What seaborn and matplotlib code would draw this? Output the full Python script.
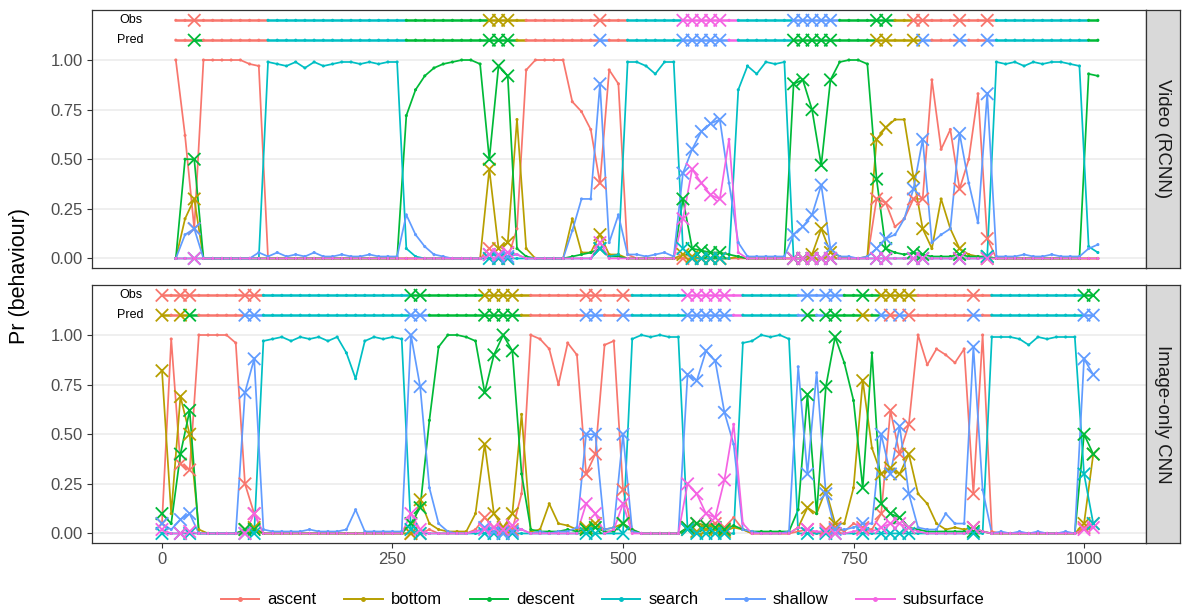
import numpy as np
import pandas as pd
import matplotlib
matplotlib.use("Agg")
import matplotlib.pyplot as plt
import seaborn as sns
from matplotlib.lines import Line2D

classes = ["ascent", "bottom", "descent", "search", "shallow", "subsurface"]
colors = ["#F8766D", "#B79F00", "#00BA38", "#00BFC4", "#619CFF", "#F564E3"]

# ---------------- Video (RCNN) panel: time 15..1015 step 10 ----------------
video_t = list(range(15, 1016, 10))
video_ascent = [100, 62, 15, 100, 100, 100, 100, 100, 98, 97,
                0, 0, 0, 0, 0, 0, 0, 0, 0, 0,
                0, 0, 0, 0, 0, 0, 0, 0, 0, 0,
                0, 0, 0, 0, 5, 0, 0, 15, 95, 100,
                100, 100, 100, 79, 74, 65, 38, 95, 88, 2,
                0, 0, 0, 0, 0, 0, 0, 0, 0, 0,
                0, 0, 0, 0, 0, 0, 0, 0, 0, 0,
                0, 0, 0, 0, 0, 0, 30, 28, 16, 20,
                30, 30, 90, 55, 65, 35, 50, 83, 10, 0,
                0, 0, 0, 0, 0, 0, 0, 0, 0, 0,
                0]
video_bottom = [0, 20, 30, 0, 0, 0, 0, 0, 0, 0,
                0, 0, 0, 0, 0, 0, 0, 0, 0, 0,
                0, 0, 0, 0, 0, 0, 0, 0, 0, 0,
                0, 0, 0, 0, 45, 5, 8, 70, 5, 0,
                0, 0, 0, 20, 3, 3, 12, 2, 2, 0,
                0, 0, 0, 0, 0, 2, 1, 0, 0, 0,
                0, 1, 0, 0, 0, 0, 0, 0, 0, 2,
                15, 3, 1, 0, 0, 1, 60, 66, 70, 70,
                41, 15, 5, 30, 15, 5, 2, 1, 0, 0,
                0, 0, 0, 0, 0, 0, 0, 0, 0, 0,
                0]
video_descent = [0, 50, 50, 0, 0, 0, 0, 0, 0, 0,
                 0, 0, 0, 0, 0, 0, 0, 0, 0, 0,
                 0, 0, 0, 0, 0, 72, 85, 92, 96, 98,
                 99, 100, 100, 98, 50, 97, 92, 5, 1, 0,
                 0, 0, 0, 1, 2, 3, 5, 1, 1, 0,
                 0, 0, 0, 0, 0, 30, 5, 4, 3, 3,
                 2, 1, 0, 0, 0, 0, 0, 88, 90, 75,
                 47, 90, 99, 100, 100, 98, 40, 5, 3, 2,
                 3, 2, 1, 1, 1, 2, 1, 1, 1, 0,
                 0, 0, 0, 0, 0, 0, 0, 0, 0, 93,
                 92]
video_search = [0, 0, 0, 0, 0, 0, 0, 0, 0, 0,
                99, 98, 97, 99, 96, 99, 97, 98, 99, 99,
                98, 99, 98, 99, 99, 5, 1, 0, 0, 0,
                0, 0, 0, 0, 0, 0, 0, 0, 0, 0,
                0, 0, 0, 0, 0, 0, 5, 1, 2, 99,
                99, 97, 93, 99, 99, 5, 0, 0, 0, 0,
                0, 85, 97, 93, 99, 98, 99, 0, 0, 0,
                0, 0, 0, 0, 0, 0, 0, 0, 0, 0,
                0, 0, 0, 0, 0, 0, 0, 0, 1, 99,
                98, 99, 97, 99, 98, 99, 99, 98, 97, 6,
                3]
video_shallow = [0, 12, 15, 0, 0, 0, 0, 0, 0, 3,
                 1, 3, 1, 2, 1, 3, 1, 1, 2, 1,
                 1, 2, 1, 1, 1, 22, 12, 6, 2, 1,
                 0, 0, 0, 0, 2, 1, 1, 2, 0, 0,
                 0, 0, 0, 14, 30, 30, 88, 8, 22, 2,
                 2, 1, 2, 3, 1, 43, 55, 64, 68, 70,
                 38, 8, 1, 1, 1, 1, 1, 12, 16, 22,
                 37, 5, 1, 1, 0, 1, 5, 10, 12, 20,
                 35, 60, 8, 12, 15, 63, 38, 18, 83, 1,
                 1, 1, 2, 1, 1, 2, 1, 1, 1, 5,
                 7]
video_subsurface = [0, 0, 0, 0, 0, 0, 0, 0, 0, 0,
                    0, 0, 0, 0, 0, 0, 0, 0, 0, 0,
                    0, 0, 0, 0, 0, 0, 0, 0, 0, 0,
                    0, 0, 0, 0, 2, 2, 3, 2, 0, 0,
                    0, 0, 0, 0, 0, 0, 8, 0, 0, 0,
                    0, 0, 0, 0, 0, 20, 45, 38, 32, 30,
                    60, 3, 0, 0, 0, 0, 0, 0, 0, 0,
                    0, 0, 0, 0, 0, 0, 0, 0, 0, 0,
                    0, 0, 0, 0, 0, 0, 0, 0, 0, 0,
                    0, 0, 0, 0, 0, 0, 0, 0, 0, 0,
                    0]
video_obs_start = [15, 108, 265, 347, 389, 503, 565, 622, 679, 733, 788, 806, 896, 997]
video_obs_label = ["ascent", "search", "descent", "bottom", "ascent", "search", "subsurface",
                   "search", "shallow", "descent", "bottom", "ascent", "search", "descent"]

# ---------------- Image-only CNN panel: time 0..1010 step 10 ----------------
image_t = list(range(0, 1011, 10))
image_ascent = [5, 98, 35, 32, 100, 100, 100, 100, 96, 25,
                10, 0, 0, 0, 0, 0, 0, 0, 0, 0,
                0, 0, 0, 0, 0, 0, 0, 0, 0, 2,
                0, 0, 0, 0, 2, 8, 3, 1, 2, 20,
                100, 98, 93, 75, 96, 90, 30, 40, 95, 97,
                22, 2, 0, 0, 0, 0, 0, 3, 5, 4,
                5, 3, 8, 2, 0, 0, 0, 0, 0, 1,
                2, 0, 2, 3, 1, 5, 3, 2, 10, 62,
                40, 55, 100, 85, 93, 90, 86, 93, 20, 100,
                1, 0, 0, 0, 0, 0, 0, 0, 0, 0,
                3, 5]
image_bottom = [82, 10, 69, 50, 2, 0, 0, 0, 0, 2,
                3, 0, 0, 0, 0, 0, 0, 0, 0, 0,
                0, 0, 0, 0, 0, 0, 0, 0, 17, 5,
                2, 1, 1, 1, 10, 45, 10, 3, 10, 60,
                1, 2, 15, 5, 4, 2, 3, 5, 2, 3,
                5, 1, 0, 0, 0, 0, 0, 2, 1, 2,
                2, 1, 3, 2, 0, 0, 0, 0, 0, 3,
                13, 10, 22, 5, 5, 23, 77, 43, 30, 33,
                30, 40, 20, 15, 5, 2, 3, 2, 3, 1,
                0, 0, 0, 0, 0, 0, 0, 0, 0, 0,
                5, 40]
image_descent = [10, 5, 40, 62, 0, 0, 0, 0, 0, 2,
                 2, 0, 0, 0, 0, 0, 0, 0, 0, 0,
                 0, 0, 0, 0, 0, 0, 0, 5, 13, 57,
                 94, 100, 100, 99, 97, 71, 90, 100, 92, 30,
                 2, 1, 1, 1, 2, 1, 2, 3, 1, 1,
                 5, 2, 0, 0, 0, 0, 0, 3, 5, 4,
                 3, 2, 4, 2, 1, 1, 1, 1, 1, 12,
                 70, 10, 74, 99, 86, 67, 23, 91, 15, 10,
                 8, 3, 2, 1, 1, 1, 1, 1, 1, 1,
                 0, 0, 0, 0, 0, 0, 0, 0, 0, 0,
                 50, 40]
image_search = [0, 0, 0, 0, 0, 0, 0, 0, 0, 0,
                0, 97, 98, 99, 97, 99, 98, 99, 97, 99,
                91, 78, 97, 99, 98, 99, 98, 2, 0, 0,
                0, 0, 0, 0, 0, 0, 0, 0, 0, 0,
                0, 0, 0, 0, 0, 0, 0, 0, 0, 0,
                0, 98, 100, 99, 100, 99, 99, 2, 0, 0,
                0, 0, 0, 96, 97, 100, 99, 100, 98, 0,
                0, 0, 0, 0, 0, 0, 0, 0, 0, 0,
                0, 0, 0, 0, 0, 0, 0, 0, 0, 0,
                99, 99, 99, 98, 95, 99, 98, 99, 99, 99,
                30, 5]
image_shallow = [5, 2, 7, 10, 0, 0, 0, 0, 0, 71,
                 88, 2, 1, 1, 1, 1, 2, 1, 1, 1,
                 2, 12, 1, 1, 1, 1, 1, 100, 74, 23,
                 5, 1, 0, 0, 1, 3, 1, 0, 1, 2,
                 0, 1, 0, 1, 1, 3, 50, 50, 2, 3,
                 50, 1, 0, 0, 0, 0, 0, 80, 77, 92,
                 87, 61, 45, 2, 1, 0, 0, 0, 1, 84,
                 30, 81, 20, 2, 2, 3, 5, 5, 50, 30,
                 54, 20, 3, 2, 2, 10, 5, 5, 94, 22,
                 0, 1, 0, 1, 0, 1, 0, 0, 1, 0,
                 88, 80]
image_subsurface = [2, 0, 0, 1, 0, 0, 0, 0, 0, 0,
                    10, 0, 0, 0, 0, 0, 0, 0, 0, 0,
                    0, 0, 0, 0, 0, 0, 0, 10, 2, 0,
                    0, 0, 0, 0, 1, 2, 3, 2, 4, 2,
                    0, 0, 0, 0, 0, 0, 15, 10, 0, 2,
                    15, 0, 0, 0, 0, 0, 0, 25, 20, 10,
                    8, 27, 55, 5, 0, 0, 0, 0, 0, 3,
                    2, 1, 1, 0, 0, 1, 2, 1, 3, 5,
                    5, 3, 1, 0, 0, 0, 0, 0, 3, 1,
                    0, 0, 0, 0, 0, 0, 0, 0, 0, 0,
                    2, 3]
image_obs_start = [0, 108, 264, 345, 398, 504, 563, 628, 684, 733, 779, 812, 894, 993]
image_obs_label = ["ascent", "search", "descent", "bottom", "ascent", "search", "subsurface",
                   "search", "shallow", "descent", "bottom", "ascent", "search", "descent"]

panel_names = ["Video (RCNN)", "Image-only CNN"]
x_ticks = [0, 250, 500, 750, 1000]
y_ticks = [0.0, 0.25, 0.5, 0.75, 1.0]
y_ticklabels = ["0.00", "0.25", "0.50", "0.75", "1.00"]

# ---------------- build tidy frames ----------------
def build(t, series, obs_start, obs_label):
    t = np.asarray(t)
    probs = np.array(series, dtype=float).T / 100.0  # (n, 6)
    pred = [classes[i] for i in probs.argmax(axis=1)]
    idx = np.searchsorted(np.asarray(obs_start), t, side="right") - 1
    obs = [obs_label[i] for i in idx]
    mism = np.array([o != p for o, p in zip(obs, pred)])
    rows = []
    for j, c in enumerate(classes):
        for k in range(len(t)):
            rows.append((t[k], c, probs[k, j], mism[k]))
    long = pd.DataFrame(rows, columns=["t", "cls", "prob", "mismatch"])
    seq = pd.DataFrame({"t": t, "obs": obs, "pred": pred, "mismatch": mism})
    return long, seq

video_long, video_seq = build(video_t, [video_ascent, video_bottom, video_descent, video_search,
                                        video_shallow, video_subsurface],
                              video_obs_start, video_obs_label)
image_long, image_seq = build(image_t, [image_ascent, image_bottom, image_descent, image_search,
                                        image_shallow, image_subsurface],
                              image_obs_start, image_obs_label)

pal = dict(zip(classes, colors))

plt.rcParams["font.family"] = ["Liberation Sans", "DejaVu Sans"]
W, H = 1182, 613
fig = plt.figure(figsize=(W / 100, H / 100), dpi=100)

def fbox(x0, y0, x1, y1):
    return [x0 / W, 1 - y1 / H, (x1 - x0) / W, (y1 - y0) / H]

panel_px = [(10, 268), (285, 543)]
XLIM = (-75.9, 1067.2)
YLIM = (-0.048, 1.252)

def draw_strip_row(ax, seq, col, yv):
    t = seq["t"].values
    labs = seq[col].values
    n = len(t)
    start = 0
    for k in range(1, n + 1):
        if k == n or labs[k] != labs[start]:
            end = min(k, n - 1)
            ax.plot(t[start:end + 1], [yv] * (end - start + 1), color=pal[labs[start]],
                    lw=1.8, solid_capstyle="butt", zorder=3)
            start = k
    d = pd.DataFrame({"t": t, "y": yv, "cls": labs, "m": seq["mismatch"].values})
    sns.scatterplot(data=d[~d.m], x="t", y="y", hue="cls", palette=pal, s=5, linewidth=0,
                    legend=False, ax=ax, zorder=4)
    sns.scatterplot(data=d[d.m], x="t", y="y", hue="cls", palette=pal, marker="x", s=80,
                    linewidth=1.3, legend=False, ax=ax, zorder=5)

for i, (name, long, seq) in enumerate([(panel_names[0], video_long, video_seq),
                                        (panel_names[1], image_long, image_seq)]):
    y0, y1 = panel_px[i]
    ax = fig.add_axes(fbox(92, y0, 1146, y1))
    for yv in y_ticks:
        ax.axhline(yv, color="#EBEBEB", lw=1.1, zorder=0)
    sns.lineplot(data=long, x="t", y="prob", hue="cls", hue_order=classes, palette=pal,
                 estimator=None, lw=1.25, legend=False, ax=ax, zorder=2)
    sns.scatterplot(data=long[~long.mismatch], x="t", y="prob", hue="cls", hue_order=classes,
                    palette=pal, s=5, linewidth=0, legend=False, ax=ax, zorder=3)
    sns.scatterplot(data=long[long.mismatch], x="t", y="prob", hue="cls", hue_order=classes,
                    palette=pal, marker="x", s=80, linewidth=1.3, legend=False, ax=ax, zorder=4)
    draw_strip_row(ax, seq, "obs", 1.2)
    draw_strip_row(ax, seq, "pred", 1.1)
    ax.text(-34, 1.2, "Obs", ha="center", va="center", fontsize=9, color="black")
    ax.text(-34, 1.1, "Pred", ha="center", va="center", fontsize=9, color="black")
    ax.set_xlim(*XLIM)
    ax.set_ylim(*YLIM)
    ax.set_yticks(y_ticks)
    ax.set_yticklabels(y_ticklabels)
    ax.set_xlabel("")
    ax.set_ylabel("")
    ax.tick_params(axis="both", colors="#333333", labelcolor="#4D4D4D", labelsize=12,
                   length=3.5, width=0.8, pad=3)
    if i == 0:
        ax.set_xticks([])
    else:
        ax.set_xticks(x_ticks)
        ax.set_xticklabels([str(v) for v in x_ticks])
    for sp in ax.spines.values():
        sp.set_color("#333333")
        sp.set_linewidth(0.9)
    ax.grid(False)
    # facet strip
    sax = fig.add_axes(fbox(1146, y0, 1180, y1))
    sax.set_facecolor("#D9D9D9")
    sax.set_xticks([])
    sax.set_yticks([])
    for sp in sax.spines.values():
        sp.set_color("#333333")
        sp.set_linewidth(0.9)
    sax.text(0.5, 0.5, name, rotation=-90, ha="center", va="center", fontsize=13.5,
             color="#1A1A1A", transform=sax.transAxes)

fig.text(20 / W, 1 - 276 / H, "Pr (behaviour)", rotation=90, ha="center", va="center",
         fontsize=15.5, color="black")

handles = [Line2D([0], [0], color=c, lw=1.4, marker="o", markersize=2.5) for c in colors]
fig.legend(handles, classes, loc="center", bbox_to_anchor=(0.51, 1 - 600 / H), ncol=6,
           frameon=False, fontsize=12, handlelength=2.3, columnspacing=1.65, handletextpad=0.5)

fig.savefig("out.png", dpi=100)
